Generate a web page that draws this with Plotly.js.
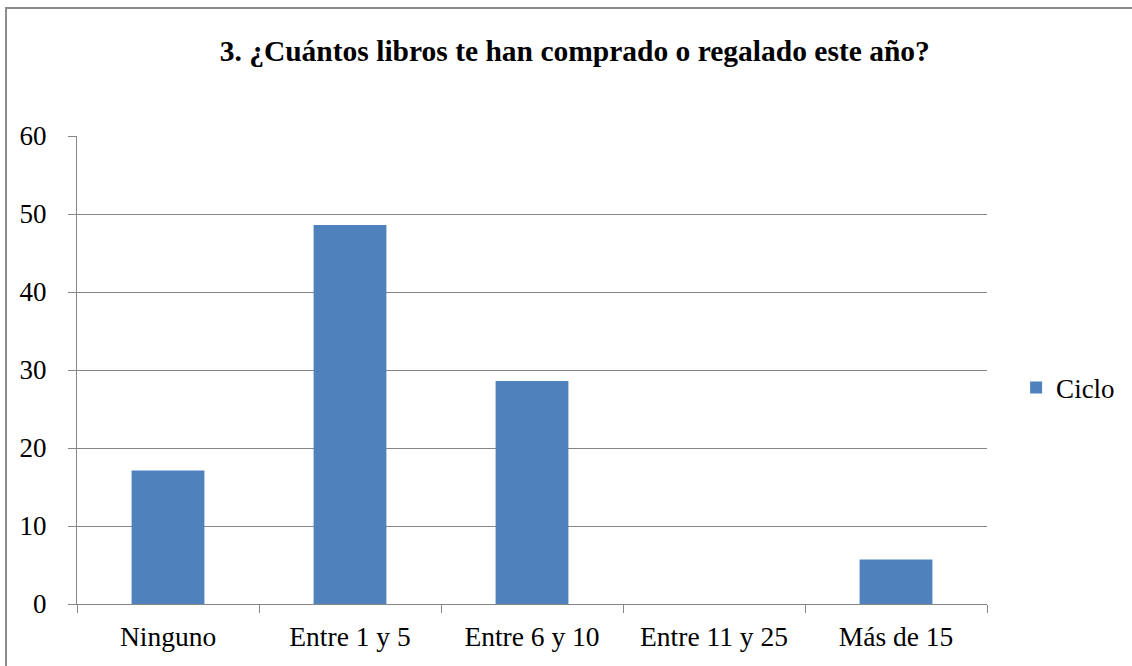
<!DOCTYPE html>
<html>
<head>
<meta charset="utf-8">
<script src="https://cdn.plot.ly/plotly-3.0.1.min.js"></script>
<style>
  html, body { margin: 0; padding: 0; background: #ffffff; overflow: hidden; }
  #chart { width: 1132px; height: 666px; position: absolute; left: 0; top: 0; }
  #frame { position: absolute; left: 5px; top: 7px; width: 1200px; height: 700px;
           border: 2px solid #8c8c8c; pointer-events: none; box-sizing: border-box; }
</style>
</head>
<body>
<div id="chart"></div>
<div id="frame"></div>
<script>
const categories = ["Ninguno", "Entre 1 y 5", "Entre 6 y 10", "Entre 11 y 25", "Más de 15"];
const cicloValues = [17.1, 48.6, 28.6, 0, 5.7];
const seriesName = "Ciclo";
const titleText = "3. ¿Cuántos libros te han comprado o regalado este año?";
const yTickValues = [0, 10, 20, 30, 40, 50, 60];

const fontFam = "Liberation Serif";
const gray = "#868686";

const trace = {
  type: "bar",
  x: categories,
  y: cicloValues,
  name: seriesName,
  marker: { color: "#4F81BD", line: { width: 0 } },
  width: 0.4,
  showlegend: true
};

const layout = {
  width: 1132,
  height: 666,
  margin: { l: 77, r: 145, t: 136, b: 62 },
  paper_bgcolor: "#ffffff",
  plot_bgcolor: "#ffffff",
  font: { family: fontFam, color: "#000000", size: 27 },
  title: {
    text: "<b>" + titleText + "</b>",
    font: { family: fontFam, size: 29.5, color: "#000000" },
    x: 0.547, xref: "paper", xanchor: "center",
    y: 0.924, yref: "container", yanchor: "middle"
  },
  xaxis: {
    type: "category",
    showline: true, linecolor: gray, linewidth: 1,
    ticks: "outside", tickson: "boundaries", ticklen: 8, tickcolor: gray, tickwidth: 1,
    showgrid: false, zeroline: false,
    tickfont: { family: fontFam, size: 27.5, color: "#000000" },
    ticklabelstandoff: 8
  },
  yaxis: {
    range: [0, 60],
    tickvals: yTickValues,
    showline: true, linecolor: gray, linewidth: 1,
    ticks: "outside", ticklen: 8, tickcolor: gray, tickwidth: 1,
    showgrid: true, gridcolor: gray, gridwidth: 1,
    zeroline: false,
    tickfont: { family: fontFam, size: 27, color: "#000000" },
    ticklabelstandoff: 16
  },
  legend: {
    x: 1.032, xanchor: "left",
    y: 0.4615, yanchor: "middle",
    font: { family: fontFam, size: 27, color: "#000000" },
    itemwidth: 30,
    bgcolor: "rgba(0,0,0,0)"
  },
  bargap: 0.6
};

Plotly.newPlot("chart", [trace], layout, { displayModeBar: false });
</script>
</body>
</html>
